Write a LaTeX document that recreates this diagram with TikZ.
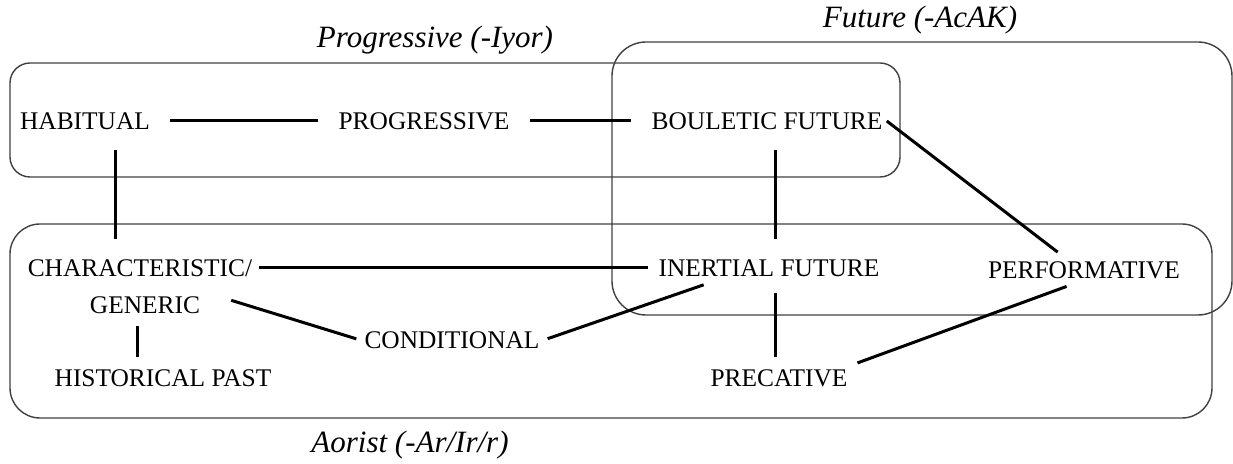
\documentclass[tikz,border=0pt]{standalone}
\usepackage{fontspec}
\setmainfont{Liberation Serif}
\begin{document}
\begin{tikzpicture}[x=0.5pt,y=-0.5pt,
	term/.style={inner sep=2pt,font=\fontsize{12.7}{15}\selectfont},
	zone/.style={draw=black!75,line width=0.7pt},
	zonelabel/.style={font=\fontsize{15.5}{18}\selectfont\itshape},
	link/.style={line width=1.5pt},
	gap/.style={shorten <=8pt,shorten >=8pt}]
	\useasboundingbox (0,0) rectangle (1233,464);
	% the three zones
	\draw[zone,rounded corners=10pt] (10,63) rectangle (900,177);
	\draw[zone,rounded corners=17pt] (612,42) rectangle (1232,315);
	\draw[zone,rounded corners=15pt] (10,224) rectangle (1212,418);
	\node[zonelabel] (lprog) at (435,40) {Progressive (-Iyor)};
	\node[zonelabel] (lfut) at (920,20) {Future (-AcAK)};
	\node[zonelabel] (laor) at (410,445) {Aorist (-Ar/Ir/r)};
	% terms
	\node[term] (habitual) at (85,121) {HABITUAL};
	\node[term] (progressive) at (424,121) {PROGRESSIVE};
	\node[term] (bouletic) at (767,121) {BOULETIC FUTURE};
	\node[term] (chara) at (140,268) {CHARACTERISTIC/};
	\node[term] (generic) at (145,305) {GENERIC};
	\node[term] (historical) at (163,378) {HISTORICAL PAST};
	\node[term] (conditional) at (452,340) {CONDITIONAL};
	\node[term] (inertial) at (769,268) {INERTIAL FUTURE};
	\node[term] (performative) at (1084,270) {PERFORMATIVE};
	\node[term] (precative) at (779,378) {PRECATIVE};
	% links
	\draw[link,gap] (habitual) -- (progressive);
	\draw[link,gap] (progressive) -- (bouletic);
	\draw[link,gap] ([xshift=15pt]habitual.south) -- ([xshift=15pt]habitual.south |- chara.north);
	\draw[link,gap] ([xshift=4pt]bouletic.south) -- ([xshift=4pt]bouletic.south |- inertial.north);
	\draw[link,shorten >=4pt] (bouletic.east) -- ([xshift=-10pt]performative.north);
	\draw[link,shorten <=1pt,shorten >=3pt] (chara.east) -- (inertial.west);
	\draw[link,shorten <=14pt,shorten >=2pt] (generic.north east) -- (conditional.west);
	\draw[link,shorten <=2pt,shorten >=6pt] (conditional.east) -- ([xshift=-27pt]inertial.south);
	\draw[link,shorten <=4pt,shorten >=4pt] ([xshift=-4pt]generic.south) -- ([xshift=-4pt]generic.south |- historical.north);
	\draw[link,shorten <=6pt,shorten >=4pt] ([xshift=3pt]inertial.south) -- ([xshift=3pt]inertial.south |- precative.north);
	\draw[link,shorten <=3pt,shorten >=5pt] (precative.north east) -- ([xshift=-4pt]performative.south);
\end{tikzpicture}
\end{document}
